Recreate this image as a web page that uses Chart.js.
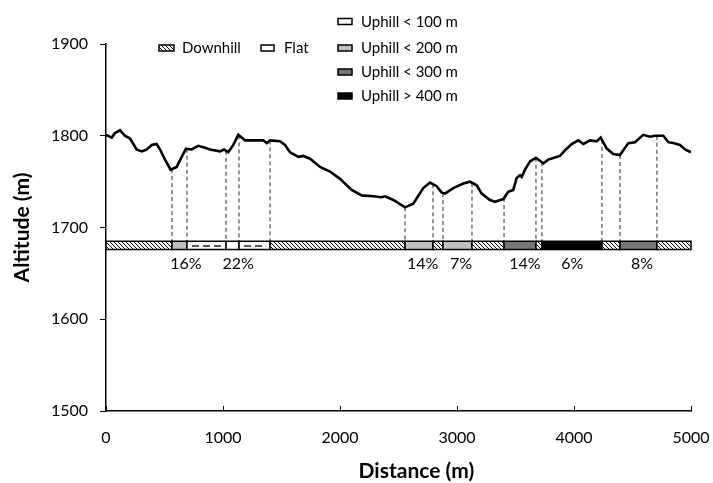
<!DOCTYPE html>
<html>
<head>
<meta charset="utf-8">
<script src="https://cdn.jsdelivr.net/npm/chart.js@4.4.0/dist/chart.umd.min.js"></script>
<style>
    html, body { margin: 0; padding: 0; background: #fff; }
    #wrap { width: 713px; height: 483px; }
</style>
</head>
<body>
<div id="wrap"><canvas id="profileChart" width="713" height="483"></canvas></div>
<script>
// Altitude profile (distance in m, altitude in m)
const distance = [0, 49, 77, 120, 134, 162, 205, 262, 305, 348, 391, 433, 462, 504, 553, 604, 647, 684, 732, 789,
    846, 889, 974, 1009, 1045, 1088, 1131, 1188, 1259, 1344, 1374, 1402, 1487, 1530, 1573, 1644, 1686, 1744, 1829, 1915,
    2000, 2100, 2185, 2285, 2356, 2385, 2456, 2556, 2626, 2712, 2769, 2826, 2869, 2897, 2968, 3054, 3111, 3168, 3211, 3282,
    3325, 3396, 3438, 3481, 3510, 3538, 3553, 3581, 3624, 3675, 3738, 3780, 3880, 3923, 3980, 4037, 4080, 4137, 4194, 4228,
    4280, 4336, 4393, 4464, 4521, 4592, 4650, 4692, 4763, 4806, 4849, 4906, 4949, 5000];
const altitude = [1801, 1798, 1803, 1806, 1804, 1800, 1797, 1785, 1783, 1785, 1790, 1791, 1785, 1774, 1763, 1766, 1777, 1786, 1785, 1789,
    1787, 1785, 1783, 1785, 1782, 1790, 1801, 1795, 1795, 1795, 1792, 1795, 1794, 1790, 1782, 1777, 1778, 1775, 1766, 1761,
    1753, 1741, 1735, 1734, 1733, 1734, 1730, 1722, 1726, 1743, 1749, 1745, 1738, 1737, 1743, 1748, 1750, 1746, 1737, 1730,
    1728, 1731, 1739, 1741, 1754, 1757, 1755, 1763, 1772, 1776, 1770, 1774, 1778, 1784, 1791, 1795, 1791, 1795, 1794, 1798,
    1786, 1780, 1779, 1792, 1793, 1801, 1799, 1800, 1800, 1793, 1792, 1790, 1785, 1782];

// Terrain segments along the route
const segBounds = [0, 564, 692, 1026, 1137, 1402, 2556, 2795, 2880, 3128, 3402, 3675, 3726, 4239, 4393, 4709, 5000];
const segType = ['down', 'up200', 'flat', 'up100', 'flat', 'down', 'up200', 'down', 'up200', 'down', 'up300', 'down', 'up400', 'down', 'up300', 'down'];
const stripTop = 1685;
const stripBottom = 1676;

// Slope labels
const pctText = ['16%', '22%', '14%', '7%', '14%', '6%', '8%'];
const pctDist = [683, 1130, 2707, 3034, 3581, 3986, 4581];
const pctAlt = 1660;

// Legend
const legendTypes = ['down', 'flat', 'up100', 'up200', 'up300', 'up400'];
const legendLabels = ['Downhill', 'Flat', 'Uphill < 100 m', 'Uphill < 200 m', 'Uphill < 300 m', 'Uphill > 400 m'];

const yTicks = [1500, 1600, 1700, 1800, 1900];
const xTicks = [0, 1000, 2000, 3000, 4000, 5000];

const canvas = document.getElementById('profileChart');
const ctx = canvas.getContext('2d');

// hatch for downhill
function makeHatch() {
    const c = document.createElement('canvas');
    c.width = 4; c.height = 4;
    const g = c.getContext('2d');
    g.fillStyle = '#fff';
    g.fillRect(0, 0, 4, 4);
    g.strokeStyle = '#000';
    g.lineWidth = 1;
    g.beginPath();
    g.moveTo(0, 0); g.lineTo(4, 4);
    g.moveTo(-1, 3); g.lineTo(1, 5);
    g.moveTo(3, -1); g.lineTo(5, 1);
    g.stroke();
    return ctx.createPattern(c, 'repeat');
}

const fills = {
    down: makeHatch(),
    flat: '#ffffff',
    up100: '#ffffff',
    up200: '#c0c0c0',
    up300: '#767676',
    up400: '#000000'
};

function drawBox(c, px, py, w, h, type, inStrip) {
    c.fillStyle = fills[type];
    c.fillRect(px, py, w, h);
    if (type === 'flat' && inStrip) {
        c.save();
        c.strokeStyle = '#222';
        c.lineWidth = 1.5;
        c.setLineDash([7, 4]);
        c.beginPath();
        c.moveTo(px + 5, py + h / 2 + 0.5);
        c.lineTo(px + w - 4, py + h / 2 + 0.5);
        c.stroke();
        c.restore();
    }
    c.strokeStyle = '#000';
    c.lineWidth = 1.5;
    c.strokeRect(px, py, w, h);
}

function altAt(d) {
    for (let i = 1; i < distance.length; i++) {
        if (d <= distance[i]) {
            const t = (d - distance[i - 1]) / (distance[i] - distance[i - 1]);
            return altitude[i - 1] + t * (altitude[i] - altitude[i - 1]);
        }
    }
    return altitude[altitude.length - 1];
}

const datasets = [{
    data: distance.map((d, i) => ({ x: d, y: altitude[i] })),
    borderColor: '#000',
    borderWidth: 2.6,
    pointRadius: 0,
    tension: 0
}];

// dashed drop lines at each segment change
segBounds.slice(1, -1).forEach(b => {
    datasets.push({
        data: [{ x: b, y: altAt(b) }, { x: b, y: stripTop }],
        borderColor: '#2a2a2a',
        borderWidth: 1,
        borderDash: [4, 3],
        pointRadius: 0
    });
});

const extras = {
    id: 'extras',
    afterDatasetsDraw(chart) {
        const c = chart.ctx;
        const xs = chart.scales.x;
        const ys = chart.scales.y;
        const top = ys.getPixelForValue(stripTop);
        const bot = ys.getPixelForValue(stripBottom);
        c.save();
        for (let i = 0; i < segType.length; i++) {
            const x0 = xs.getPixelForValue(segBounds[i]);
            const x1 = xs.getPixelForValue(segBounds[i + 1]);
            drawBox(c, x0, top, x1 - x0, bot - top, segType[i], true);
        }

        c.fillStyle = '#000';
        c.font = '16px Lato';
        c.textAlign = 'center';
        c.textBaseline = 'middle';
        pctText.forEach((t, i) => {
            c.fillText(t, xs.getPixelForValue(pctDist[i]), ys.getPixelForValue(pctAlt));
        });

        // legend
        const spots = [[159, 48, 15], [261, 48, 13], [338, 21.5, 14], [338, 48, 14], [338, 72, 14], [338, 96, 14]];
        c.font = '15px Lato';
        c.textAlign = 'left';
        legendTypes.forEach((t, i) => {
            const [lx, ly, lw] = spots[i];
            drawBox(c, lx, ly - 3, lw, 6, t, false);
            c.fillStyle = '#000';
            c.fillText(legendLabels[i], lx + 23, ly + 0.5);
        });
        c.restore();
    }
};

new Chart(ctx, {
    type: 'line',
    data: { datasets: datasets },
    options: {
        responsive: false,
        animation: false,
        events: [],
        layout: { padding: { left: 0, right: 22, top: 44, bottom: 0 } },
        plugins: {
            legend: { display: false },
            tooltip: { enabled: false }
        },
        scales: {
            x: {
                type: 'linear',
                min: 0,
                max: 5000,
                afterBuildTicks: s => { s.ticks = xTicks.map(v => ({ value: v })); },
                afterFit: s => { s.height = 72; s.paddingLeft = 0; s.paddingRight = 0; },
                ticks: { color: '#000', font: { family: 'Lato', size: 16 }, padding: 22, maxRotation: 0, callback: v => String(v) },
                grid: { drawOnChartArea: false, tickLength: -5, color: '#000', lineWidth: 1 },
                border: { color: '#000', width: 1.5 },
                title: {
                    display: true,
                    text: '       Distance (m)',
                    color: '#000',
                    font: { family: 'Lato', size: 21, weight: 'bold' },
                    padding: { top: 0, bottom: -1 }
                }
            },
            y: {
                type: 'linear',
                min: 1500,
                max: 1900,
                afterBuildTicks: s => { s.ticks = yTicks.map(v => ({ value: v })); },
                afterFit: s => { s.width = 106; s.paddingTop = 0; s.paddingBottom = 0; },
                ticks: { color: '#000', font: { family: 'Lato', size: 16 }, padding: 12, callback: v => String(v) },
                grid: { drawOnChartArea: false, tickLength: 6, color: '#000', lineWidth: 1 },
                border: { color: '#000', width: 1.5 },
                title: {
                    display: true,
                    text: 'Altitude (m)',
                    color: '#000',
                    font: { family: 'Lato', size: 21, weight: 'bold' },
                    padding: { top: 10, bottom: 0 }
                }
            }
        }
    },
    plugins: [extras]
});
</script>
</body>
</html>
